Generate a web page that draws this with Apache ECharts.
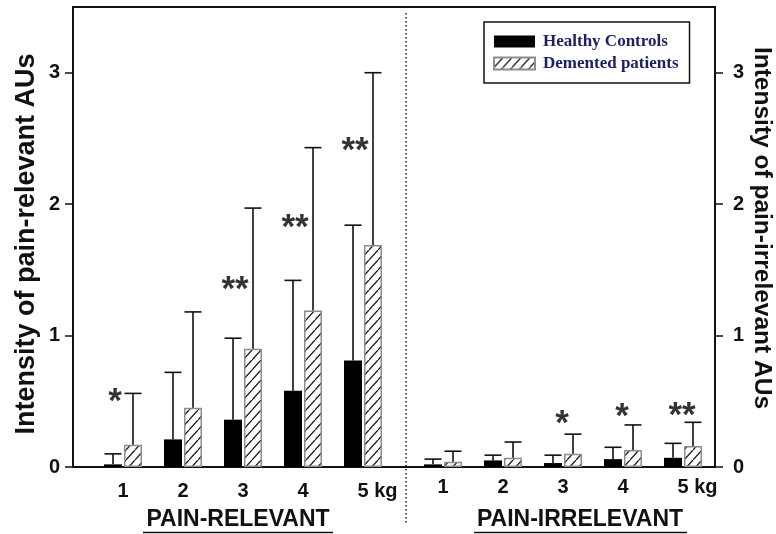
<!DOCTYPE html>
<html>
<head>
<meta charset="utf-8">
<script src="https://cdn.jsdelivr.net/npm/echarts@6/dist/echarts.min.js"></script>
<style>
  html, body { margin: 0; padding: 0; background: #fff; }
  #chart { width: 776px; height: 534px; }
</style>
</head>
<body>
<div id="chart"></div>
<script>
// Dose steps (weight of the pressure stimulus)
const doseLabels = ['1', '2', '3', '4', '5 kg'];

// Tick values of both intensity axes
const intensityTicks = [0, 1, 2, 3];

// Pain-relevant action units: mean and SD per dose
const relevantHealthyMean   = [0.02, 0.21, 0.36, 0.58, 0.81];
const relevantHealthySD     = [0.08, 0.51, 0.62, 0.84, 1.03];
const relevantDementedMean  = [0.17, 0.45, 0.90, 1.19, 1.69];
const relevantDementedSD    = [0.39, 0.73, 1.07, 1.24, 1.31];

// Pain-irrelevant action units: mean and SD per dose
const irrelevantHealthyMean  = [0.02, 0.05, 0.03, 0.06, 0.07];
const irrelevantHealthySD    = [0.04, 0.04, 0.06, 0.09, 0.11];
const irrelevantDementedMean = [0.04, 0.07, 0.10, 0.13, 0.16];
const irrelevantDementedSD   = [0.08, 0.12, 0.15, 0.19, 0.18];

// Significance markers and the level (in AU) they are written at
const relevantStars       = ['*', '', '**', '**', '**'];
const relevantStarLevel   = [0.54, 0, 1.39, 1.86, 2.45];
const irrelevantStars     = ['', '', '*', '*', '**'];
const irrelevantStarLevel = [0, 0, 0.37, 0.42, 0.43];

const seriesNames = ['Healthy Controls', 'Demented patients'];

// Diagonal hatch used for the patient bars
function makeHatch() {
  const c = document.createElement('canvas');
  const w = 9, h = 10;
  c.width = w; c.height = h;
  const g = c.getContext('2d');
  g.fillStyle = '#ffffff';
  g.fillRect(0, 0, w, h);
  g.strokeStyle = '#1a1a1a';
  g.lineWidth = 1.3;
  g.beginPath();
  g.moveTo(0, h); g.lineTo(w, 0);
  g.moveTo(-w, h); g.lineTo(0, 0);
  g.moveTo(w, 2 * h); g.lineTo(2 * w, h);
  g.stroke();
  return c;
}
const hatch = { image: makeHatch(), repeat: 'repeat' };

const SANS = '"Liberation Sans", Arial, Helvetica, sans-serif';
const SERIF = '"Liberation Serif", "Times New Roman", serif';
const INK = '#111';

const BAR_W = 18;
const OFFSET = 10; // half distance between the two bar centres of a dose

function errorBars(gridIdx, name, means, sds, dx) {
  return {
    type: 'custom',
    name: name + ' SD',
    xAxisIndex: gridIdx,
    yAxisIndex: gridIdx + 1,
    silent: true,
    z: 4,
    data: means.map((m, i) => [i, m, sds[i]]),
    renderItem: function (params, api) {
      const i = api.value(0), m = api.value(1), s = api.value(2);
      const base = api.coord([i, m]);
      const top = api.coord([i, m + s]);
      const x = base[0] + dx;
      const st = { stroke: INK, lineWidth: 1.6 };
      return {
        type: 'group',
        children: [
          { type: 'line', shape: { x1: x, y1: base[1], x2: x, y2: top[1] }, style: st },
          { type: 'line', shape: { x1: x - 8.5, y1: top[1], x2: x + 8.5, y2: top[1] }, style: st }
        ]
      };
    }
  };
}

function barPair(gridIdx, healthy, demented) {
  return [
    {
      type: 'bar', name: seriesNames[0],
      xAxisIndex: gridIdx, yAxisIndex: gridIdx + 1,
      data: healthy, barWidth: BAR_W, barGap: '11%',
      itemStyle: { color: '#000' }, silent: true
    },
    {
      type: 'bar', name: seriesNames[1],
      xAxisIndex: gridIdx, yAxisIndex: gridIdx + 1,
      data: demented, barWidth: BAR_W, barGap: '11%',
      itemStyle: { color: hatch, borderColor: '#8d8d8d', borderWidth: 1.5 }, silent: true
    }
  ];
}

function starSeries(gridIdx, marks, levels, dx) {
  const data = [];
  marks.forEach((s, i) => { if (s) data.push({ value: [i, levels[i]], mark: s }); });
  return {
    type: 'scatter',
    xAxisIndex: gridIdx, yAxisIndex: gridIdx + 1,
    symbolSize: 1,
    itemStyle: { color: 'rgba(0,0,0,0)' },
    silent: true, z: 5,
    data: data,
    label: {
      show: true, position: 'inside', offset: [dx, 6],
      formatter: p => p.data.mark,
      fontFamily: SANS, fontWeight: 'bold', fontSize: 35, color: '#000'
    }
  };
}

function doseAxis(gridIdx, margin) {
  return {
    type: 'category', gridIndex: gridIdx, data: doseLabels,
    axisLine: { show: false }, axisTick: { show: false },
    axisLabel: {
      margin: margin, color: INK, fontFamily: SANS, fontWeight: 'bold', fontSize: 20,
      interval: 0,
      formatter: v => v.indexOf(' ') > 0 ? '{k|' + v + '}' : v,
      rich: { k: { padding: [0, 0, 0, 29], color: INK, fontFamily: SANS, fontWeight: 'bold', fontSize: 20 } }
    }
  };
}

function hiddenY(gridIdx) {
  return { type: 'value', gridIndex: gridIdx, min: 0, max: 3.5, show: false };
}

function frameY(pos, margin) {
  return {
    type: 'value', gridIndex: 0, position: pos, min: 0, max: 3.5, interval: 1,
    axisLine: { show: false },
    axisTick: { show: true, length: 8, customValues: intensityTicks,
                lineStyle: { color: INK, width: 1.5 } },
    splitLine: { show: false },
    axisLabel: {
      margin: margin, color: INK, fontFamily: SANS, fontWeight: 'bold', fontSize: 20,
      customValues: intensityTicks
    }
  };
}

const option = {
  animation: false,
  backgroundColor: '#fff',
  grid: [
    { left: 73, right: 61, top: 7, bottom: 67, show: true, borderColor: INK, borderWidth: 2,
      backgroundColor: 'transparent', outerBoundsMode: 'none' },
    { left: 93, width: 300, top: 7, bottom: 67, outerBoundsMode: 'none' },
    { left: 413, width: 300, top: 7, bottom: 67, outerBoundsMode: 'none' }
  ],
  xAxis: [
    { type: 'value', gridIndex: 0, min: 0, max: 1, show: false },
    doseAxis(1, 14),
    doseAxis(2, 10)
  ],
  yAxis: [
    frameY('left', 13),
    frameY('right', 18),
    hiddenY(1),
    hiddenY(2)
  ],
  legend: {
    orient: 'vertical', left: 484, top: 22,
    padding: [11, 11, 11, 9],
    itemWidth: 41, itemHeight: 12, itemGap: 5,
    icon: 'rect',
    borderColor: INK, borderWidth: 1.5, backgroundColor: '#fff',
    selectedMode: false,
    data: seriesNames,
    textStyle: {
      fontFamily: SERIF, fontWeight: 'bold', fontSize: 17, color: '#1c2262',
      padding: [0, 0, 0, 3]
    }
  },
  graphic: [
    // dotted divider between the two panels
    { type: 'line', silent: true, shape: { x1: 406, y1: 13, x2: 406, y2: 523 },
      style: { stroke: '#222', lineWidth: 1.5, lineDash: [1.5, 2.5] } },
    // y-axis titles
    { type: 'text', silent: true, x: 27, y: 244, rotation: Math.PI / 2,
      style: { text: 'Intensity of pain-relevant AUs', align: 'center', verticalAlign: 'middle',
               fontFamily: SANS, fontWeight: 'bold', fontSize: 27, fill: INK } },
    { type: 'text', silent: true, x: 762, y: 228, rotation: -Math.PI / 2,
      style: { text: 'Intensity of pain-irrelevant AUs', align: 'center', verticalAlign: 'middle',
               fontFamily: SANS, fontWeight: 'bold', fontSize: 24.5, fill: INK } },
    // panel titles, underlined
    { type: 'text', silent: true, x: 238, y: 520,
      style: { text: 'PAIN-RELEVANT', align: 'center', verticalAlign: 'middle',
               fontFamily: SANS, fontWeight: 'bold', fontSize: 23, fill: INK } },
    { type: 'line', silent: true, shape: { x1: 143, y1: 532.5, x2: 333, y2: 532.5 },
      style: { stroke: INK, lineWidth: 1.5 } },
    { type: 'text', silent: true, x: 580, y: 520,
      style: { text: 'PAIN-IRRELEVANT', align: 'center', verticalAlign: 'middle',
               fontFamily: SANS, fontWeight: 'bold', fontSize: 23, fill: INK } },
    { type: 'line', silent: true, shape: { x1: 474, y1: 532.5, x2: 687, y2: 532.5 },
      style: { stroke: INK, lineWidth: 1.5 } }
  ],
  series: [
    ...barPair(1, relevantHealthyMean, relevantDementedMean),
    errorBars(1, seriesNames[0], relevantHealthyMean, relevantHealthySD, -OFFSET),
    errorBars(1, seriesNames[1], relevantDementedMean, relevantDementedSD, OFFSET),
    starSeries(1, relevantStars, relevantStarLevel, -8),
    ...barPair(2, irrelevantHealthyMean, irrelevantDementedMean),
    errorBars(2, seriesNames[0], irrelevantHealthyMean, irrelevantHealthySD, -OFFSET),
    errorBars(2, seriesNames[1], irrelevantDementedMean, irrelevantDementedSD, OFFSET),
    starSeries(2, irrelevantStars, irrelevantStarLevel, -1)
  ]
};

const chart = echarts.init(document.getElementById('chart'), null, { renderer: 'canvas' });
chart.setOption(option);
</script>
</body>
</html>
